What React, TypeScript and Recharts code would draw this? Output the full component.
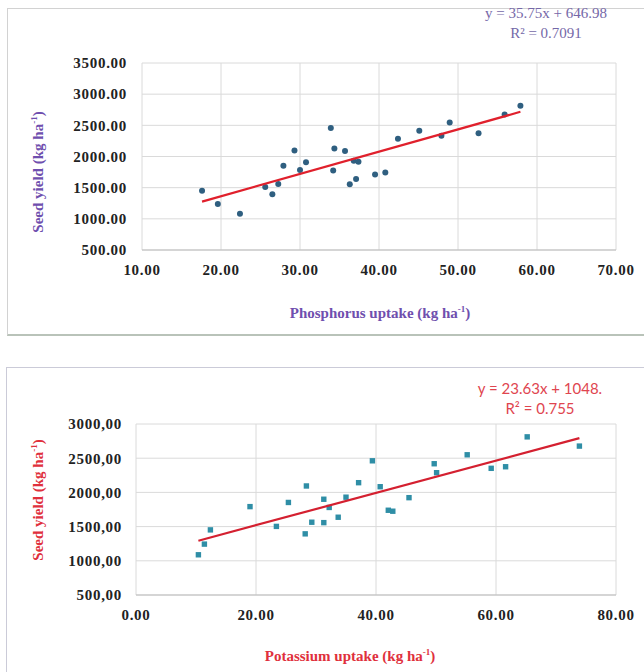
import { ScatterChart, Scatter, XAxis, YAxis, CartesianGrid } from 'recharts';

// Phosphorus uptake vs seed yield
const pUptake = [17.6, 19.6, 22.4, 25.6, 26.5, 27.25, 27.9, 29.3, 30.0, 30.76, 33.9, 34.2, 34.35, 35.7, 36.3, 36.8, 37.1, 37.4, 39.5, 40.8, 42.4, 45.1, 47.9, 48.95, 52.6, 55.9, 57.9];
const pYield = [1450, 1237, 1082, 1510, 1393, 1558, 1851, 2098, 1782, 1906, 2456, 1777, 2130, 2087, 1553, 1932, 1638, 1916, 1713, 1745, 2284, 2412, 2332, 2547, 2371, 2675, 2813];
const pTrendX = [17.6, 57.9];
const pTrendY = [1276, 2717];
const pXTicks = [10, 20, 30, 40, 50, 60, 70];
const pYTicks = [500, 1000, 1500, 2000, 2500, 3000, 3500];

// Potassium uptake vs seed yield
const kUptake = [10.4, 11.4, 12.4, 19.0, 23.4, 25.4, 28.2, 28.4, 29.3, 31.3, 31.3, 32.2, 33.7, 35.0, 37.1, 39.4, 40.7, 42.05, 42.8, 45.5, 49.7, 50.1, 55.2, 59.2, 61.6, 65.2, 73.9];
const kYield = [1088, 1244, 1452, 1792, 1503, 1853, 1394, 2094, 1564, 1900, 1558, 1780, 1637, 1930, 2142, 2462, 2083, 1739, 1725, 1923, 2419, 2288, 2550, 2352, 2375, 2812, 2677];
const kTrendX = [10.4, 73.9];
const kTrendY = [1294, 2794];
const kXTicks = [0, 20, 40, 60, 80];
const kYTicks = [500, 1000, 1500, 2000, 2500, 3000];

const zip = (xs: number[], ys: number[]) => xs.map((x, i) => ({ x, y: ys[i] }));

const tickStyle = {
  fill: '#222',
  fontFamily: '"Liberation Serif", serif',
  fontWeight: 700,
  fontSize: 15,
  letterSpacing: 0.7,
};

const serifTitle = {
  position: 'absolute' as const,
  fontFamily: '"Liberation Serif", serif',
  fontWeight: 700,
  fontSize: 15,
  whiteSpace: 'nowrap' as const,
  transform: 'translate(-50%, -50%)',
};

const Sup = ({ children }: { children: string }) => (
  <span style={{ fontSize: '0.6em', verticalAlign: 'super', lineHeight: 0 }}>{children}</span>
);

const dot = (color: string) => (props: any) => (
  <circle cx={props.cx} cy={props.cy} r={3} fill={color} />
);
const square = (color: string) => (props: any) => (
  <rect x={props.cx - 2.7} y={props.cy - 2.7} width={5.4} height={5.4} fill={color} />
);
const noShape = () => <g />;

export default function App() {
  return (
    <div style={{ position: 'absolute', left: 0, top: 0, width: 644, height: 672, background: '#fff', overflow: 'hidden' }}>
      {/* panel frames */}
      <div style={{ position: 'absolute', left: 7, top: 8, width: 636, height: 325, border: '1px solid #d2d2d2', borderBottom: '2px solid #b9c3b9' }} />
      <div style={{ position: 'absolute', left: 6, top: 367, width: 640, height: 320, border: '1px solid #cbcbd8' }} />

      {/* top chart */}
      <div style={{ position: 'absolute', left: 0, top: 0 }}>
        <ScatterChart width={644} height={300} margin={{ top: 63, right: 28, left: 82, bottom: 20 }}>
          <CartesianGrid stroke="#dadada" />
          <XAxis
            type="number"
            dataKey="x"
            domain={[10, 70]}
            ticks={pXTicks}
            tickFormatter={(v: number) => v.toFixed(2)}
            tick={tickStyle}
            tickLine={false}
            tickSize={0}
            tickMargin={14}
            axisLine={{ stroke: '#bdbdbd' }}
            height={30}
          />
          <YAxis
            type="number"
            dataKey="y"
            domain={[500, 3500]}
            ticks={pYTicks}
            tickFormatter={(v: number) => v.toFixed(2)}
            tick={tickStyle}
            tickLine={false}
            tickSize={0}
            tickMargin={15}
            axisLine={false}
            width={60}
          />
          <Scatter data={zip(pUptake, pYield)} shape={dot('#2f5f80')} isAnimationActive={false} />
          <Scatter
            data={zip(pTrendX, pTrendY)}
            line={{ stroke: '#e0202c', strokeWidth: 2.2 }}
            shape={noShape}
            isAnimationActive={false}
          />
        </ScatterChart>
      </div>

      <div style={{ ...serifTitle, left: 546, top: 23, fontWeight: 400, fontSize: 15, color: '#7568a8', textAlign: 'center', lineHeight: '20px' }}>
        y = 35.75x + 646.98
        <br />
        R² = 0.7091
      </div>
      <div style={{ ...serifTitle, left: 380, top: 313, color: '#6f4fae' }}>
        Phosphorus uptake (kg ha<Sup>-1</Sup>)
      </div>
      <div style={{ ...serifTitle, left: 38, top: 172, color: '#6f4fae', transform: 'translate(-50%, -50%) rotate(-90deg)' }}>
        Seed yield (kg ha<Sup>-1</Sup>)
      </div>

      {/* bottom chart */}
      <div style={{ position: 'absolute', left: 0, top: 340 }}>
        <ScatterChart width={644} height={300} margin={{ top: 84, right: 28, left: 76, bottom: 15 }}>
          <CartesianGrid stroke="#dadada" />
          <XAxis
            type="number"
            dataKey="x"
            domain={[0, 80]}
            ticks={kXTicks}
            tickFormatter={(v: number) => v.toFixed(2)}
            tick={tickStyle}
            tickLine={false}
            tickSize={0}
            tickMargin={14}
            axisLine={{ stroke: '#bdbdbd' }}
            height={30}
          />
          <YAxis
            type="number"
            dataKey="y"
            domain={[500, 3000]}
            ticks={kYTicks}
            tickFormatter={(v: number) => v.toFixed(2).replace('.', ',')}
            tick={tickStyle}
            tickLine={false}
            tickSize={0}
            tickMargin={14}
            axisLine={false}
            width={60}
          />
          <Scatter data={zip(kUptake, kYield)} shape={square('#2f8ea6')} isAnimationActive={false} />
          <Scatter
            data={zip(kTrendX, kTrendY)}
            line={{ stroke: '#d42030', strokeWidth: 2.2 }}
            shape={noShape}
            isAnimationActive={false}
          />
        </ScatterChart>
      </div>

      <div style={{ ...serifTitle, left: 540, top: 398, fontFamily: 'Lato, "Open Sans", sans-serif', fontWeight: 400, fontSize: 15, color: '#e0454f', textAlign: 'center', lineHeight: '20px' }}>
        y = 23.63x + 1048.
        <br />
        R² = 0.755
      </div>
      <div style={{ ...serifTitle, left: 350, top: 656, color: '#e0303c' }}>
        Potassium uptake (kg ha<Sup>-1</Sup>)
      </div>
      <div style={{ ...serifTitle, left: 38, top: 500, color: '#e0303c', transform: 'translate(-50%, -50%) rotate(-90deg)' }}>
        Seed yield (kg ha<Sup>-1</Sup>)
      </div>
    </div>
  );
}
